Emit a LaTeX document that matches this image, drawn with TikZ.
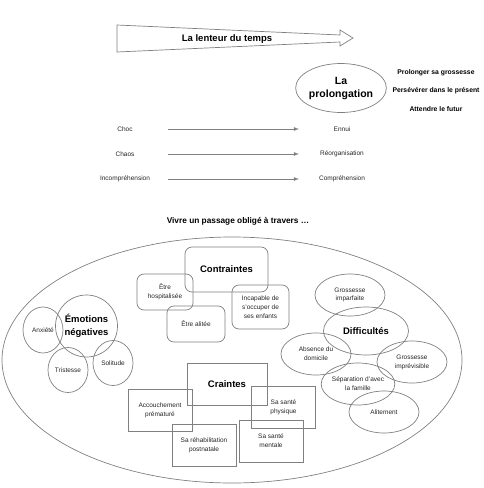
\documentclass[tikz,border=0pt]{standalone}
\usepackage{fontspec}
\setmainfont{Liberation Sans}
\usetikzlibrary{shapes.geometric}

\tikzset{
    small/.style={font=\fontsize{6.5}{8.8}\selectfont,text=black!85,align=center},
    big/.style={font=\fontsize{9.5}{12.5}\selectfont\bfseries,align=center},
    line/.style={draw=black!50,line width=0.7pt},
    oval/.style={line,ellipse,inner sep=0pt},
    rbox/.style={line,rectangle,rounded corners=7pt,inner sep=0pt},
    sbox/.style={line,rectangle,inner sep=0pt},
    flow/.style={draw=black!50,line width=0.8pt,->,shorten <=43pt,shorten >=43pt}
}

\begin{document}
\begin{tikzpicture}[x=1pt,y=-1pt,>=latex]
    \useasboundingbox (0,0) rectangle (483,488);

    % the big arrow of time
    \draw[line] (117,25) -- (340,35) -- (340,30) -- (353,38)
          -- (340,46) -- (340,42) -- (117,52) -- cycle;
    \node[font=\fontsize{9.5}{11}\selectfont\bfseries] (temps) at (227,39) {La lenteur du temps};

    % the prolongation and its three ways
    \node[oval,big,font=\fontsize{10.5}{13}\selectfont\bfseries,minimum width=76pt,minimum height=49pt]
        (prolong) at (341,88) {La\\prolongation};
    \foreach \y/\txt in {73/Prolonger sa grossesse,
                         91/Persévérer dans le présent,
                         109/Attendre le futur}
        \node[font=\fontsize{6.8}{8}\selectfont\bfseries] at (436,\y) {\txt};

    % from one state to the next
    \foreach \n/\y/\from/\to in {
        1/129/Choc/Ennui,
        2/154/Chaos/Réorganisation,
        3/179/Incompréhension/Compréhension} {
            \node[small] (from\n) at (125,\y) {\from};
            \node[small] (to\n) at (342,\y) {\to};
            \draw[flow] (from\n.center) -- (to\n.center);
    }

    % the passage itself
    \node[font=\fontsize{8.3}{10}\selectfont\bfseries] (vivre) at (238,221) {Vivre un passage obligé à travers \dots};
    \node[oval,minimum width=460pt,minimum height=246pt] (passage) at (232,360) {};

    % negative emotions
    \node[oval,big,minimum width=54pt,minimum height=62pt] (emotions) at (86.5,326) {Émotions\\négatives};
    \foreach \name/\x/\y/\h/\txt in {
        anxiete/43/330/46/Anxiété,
        tristesse/68/370/45/Tristesse,
        solitude/113/363/45/Solitude}
            \node[oval,small,minimum width=40pt,minimum height=\h pt] (\name) at (\x,\y) {\txt};

    % constraints
    \node[rbox,big,minimum width=83pt,minimum height=45pt] (contraintes) at (226.5,269.5) {Contraintes};
    \foreach \name/\x/\y/\w/\h/\txt in {
        hospit/165/292/56/36/{Être\\hospitalisée},
        alitee/196/324/58/36/{Être alitée},
        enfants/260.5/307/57/44/{Incapable de\\s'occuper de\\ses enfants}}
            \node[rbox,small,minimum width=\w pt,minimum height=\h pt] (\name) at (\x,\y) {\txt};

    % fears
    \node[sbox,big,minimum width=80pt,minimum height=42pt] (craintes) at (227,384) {Craintes};
    \foreach \name/\x/\y/\txt in {
        accouch/160/410/{Accouchement\\prématuré},
        physique/283.5/407/{Sa santé\\physique},
        rehab/204/445/{Sa réhabilitation\\postnatale},
        mentale/271/441/{Sa santé\\mentale}}
            \node[sbox,small,minimum width=64pt,minimum height=42pt] (\name) at (\x,\y) {\txt};

    % difficulties
    \node[oval,big,minimum width=85pt,minimum height=48pt] (difficultes) at (366,331) {Difficultés};
    \foreach \name/\x/\y/\txt in {
        imparfaite/350/295/{Grossesse\\imparfaite},
        domicile/316/354/{Absence du\\domicile},
        imprevue/412/362/{Grossesse\\imprévisible},
        famille/358/384/{Séparation d'avec\\la famille},
        alitement/384/412/{Alitement}}
            \node[oval,small,minimum width=70pt,minimum height=42pt] (\name) at (\x,\y) {\txt};
\end{tikzpicture}
\end{document}
